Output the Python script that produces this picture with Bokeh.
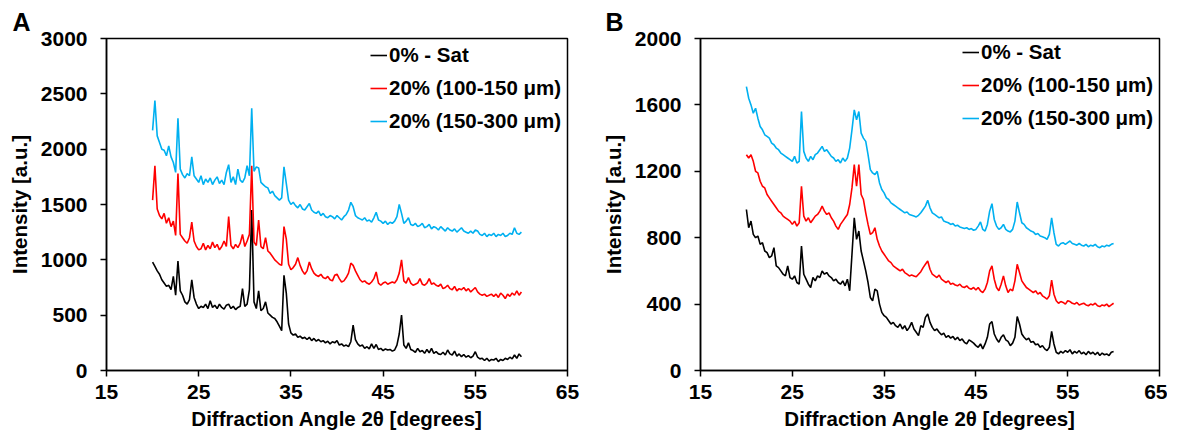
from bokeh.plotting import figure
from bokeh.models import Range1d, Legend, LegendItem, FixedTicker
from bokeh.layouts import row
from bokeh.embed import file_html
from bokeh.resources import INLINE

FONT = "Liberation Sans"

# ---------------- data ----------------
ANGLE_START = 20.0
ANGLE_STEP = 0.25
N_POINTS = 161
angles = [round(ANGLE_START + ANGLE_STEP * i, 2) for i in range(N_POINTS)]

series_names = ["0% - Sat", "20% (100-150 \u03bcm)", "20% (150-300 \u03bcm)"]
series_colors = ["#000000", "#FF0000", "#00B0F0"]

x_ticks = [15, 25, 35, 45, 55, 65]
y_ticks_a = [0, 500, 1000, 1500, 2000, 2500, 3000]
y_ticks_b = [0, 400, 800, 1200, 1600, 2000]

# Panel A
a_sat = [
    980, 940, 900, 870,
    820, 790, 760, 770,
    730, 850, 680, 990,
    720, 680, 620, 600,
    640, 820, 660, 600,
    560, 580, 570, 600,
    560, 630, 570, 590,
    560, 600, 570, 555,
    590, 600, 560, 580,
    550, 570, 580, 740,
    580, 600, 730, 1450,
    620, 560, 720, 540,
    560, 620, 520, 500,
    480, 470, 440, 400,
    360, 860, 700, 420,
    340, 320, 330, 300,
    310, 290, 300, 280,
    300, 270, 290, 265,
    280, 260, 270, 250,
    265, 240, 260, 250,
    270, 230, 240, 220,
    230, 215, 260, 410,
    280, 240, 220, 230,
    200, 215, 195, 240,
    200, 235, 190, 200,
    180, 195, 185, 190,
    175, 185, 230, 330,
    500, 230, 200, 250,
    190, 180, 165, 200,
    170, 180, 155, 190,
    160, 200, 155, 170,
    150, 145, 165, 140,
    185, 150, 140, 175,
    130, 150, 125, 145,
    120, 135, 115, 130,
    170, 120, 105, 110,
    90, 110, 85, 100,
    95, 110, 80, 100,
    90, 110, 100, 120,
    105, 140, 110, 150,
    125,
]
a_100_150 = [
    1540, 1850, 1460, 1400,
    1370, 1420, 1330, 1380,
    1300, 1350, 1220, 1780,
    1230, 1200, 1170, 1150,
    1200, 1340, 1170, 1120,
    1090, 1100, 1150, 1090,
    1130, 1100, 1160, 1110,
    1140, 1090, 1120, 1170,
    1120, 1390, 1130, 1100,
    1140, 1110, 1150, 1230,
    1120, 1170, 1230, 1850,
    1160, 1130, 1360, 1120,
    1100, 1200, 1080, 1060,
    1030, 1000, 980, 960,
    950, 1300, 1190, 960,
    910, 930, 960, 1020,
    950, 900, 870, 900,
    980, 920, 880, 860,
    850, 870, 840, 830,
    850, 820, 810, 860,
    870, 830, 800, 810,
    840, 880, 970, 950,
    900, 860, 820, 800,
    810, 790, 780, 800,
    830, 890, 790, 770,
    790, 800, 780, 790,
    800, 790, 820, 880,
    1000, 810, 790, 840,
    790, 770, 780, 790,
    830, 780, 770, 790,
    830, 780, 790, 770,
    760, 780, 740, 750,
    770, 740, 730, 760,
    720, 740, 730, 750,
    720, 740, 710, 730,
    750, 710, 690, 680,
    690, 670, 680, 690,
    670, 690, 660, 700,
    680, 650, 690, 670,
    700, 680, 720, 680,
    710,
]
a_150_300 = [
    2170, 2440, 2120, 2060,
    2000, 1990, 1940, 2030,
    1930, 1880, 1790, 2280,
    1820, 1770, 1740, 1780,
    1760, 1930, 1760, 1730,
    1700, 1760, 1680, 1730,
    1700, 1740, 1680, 1720,
    1750, 1690, 1720, 1680,
    1790, 1860, 1700, 1750,
    1680, 1820, 1720, 1700,
    1740, 1850, 1760, 2370,
    1800, 1840, 1830, 1700,
    1680, 1660, 1650, 1600,
    1620, 1580, 1560, 1540,
    1560, 1840, 1690, 1540,
    1500, 1520, 1490, 1470,
    1500, 1460, 1450, 1480,
    1510, 1450, 1430, 1420,
    1440, 1400, 1420, 1390,
    1380, 1400, 1390, 1370,
    1400, 1380, 1360, 1390,
    1410, 1450, 1520, 1480,
    1400, 1380, 1370, 1360,
    1380, 1350, 1360, 1340,
    1380, 1430, 1360, 1350,
    1330, 1350, 1320, 1340,
    1330, 1350, 1390, 1500,
    1420, 1330, 1350, 1380,
    1320, 1310, 1330, 1300,
    1310, 1330, 1290, 1300,
    1320, 1280, 1300, 1290,
    1270, 1300, 1280, 1260,
    1290, 1270, 1260, 1280,
    1250, 1270, 1290, 1260,
    1250, 1240, 1260, 1240,
    1270, 1260, 1230, 1220,
    1240, 1210, 1230, 1220,
    1240, 1210, 1230, 1220,
    1240, 1210, 1220, 1240,
    1230, 1290, 1240, 1230,
    1250,
]

# Panel B
b_sat = [
    970, 860, 900, 820,
    800, 810, 760, 770,
    720, 710, 680, 690,
    740, 630, 620, 600,
    580, 570, 630, 560,
    550, 570, 530, 520,
    750, 580, 550, 520,
    500, 560, 540, 570,
    560, 600, 580, 590,
    570, 560, 540, 550,
    530, 520, 540, 510,
    550, 480, 700, 920,
    790, 840, 720, 660,
    600, 530, 440, 420,
    490, 480, 400, 350,
    330, 320, 300, 280,
    290, 270, 260, 280,
    250, 270, 240, 260,
    290, 250, 230, 210,
    270, 260, 320, 340,
    290, 260, 240, 250,
    230, 215, 225, 200,
    210, 195, 205, 185,
    200, 180, 190, 170,
    160, 185, 175, 165,
    150, 140, 160, 130,
    160, 200, 280, 295,
    220, 190, 170, 200,
    215, 185, 175, 150,
    165, 200, 325, 280,
    220, 200, 185, 195,
    170, 175, 155, 160,
    140, 150, 130, 120,
    140, 235, 160, 110,
    100, 115, 105, 120,
    110, 125, 100, 115,
    105, 120, 100, 110,
    95, 115, 100, 110,
    95, 110, 90, 105,
    95, 100, 90, 110,
    115,
]
b_100_150 = [
    1300, 1280, 1300, 1260,
    1200, 1190, 1140, 1110,
    1100, 1060, 1040, 1020,
    1000, 980, 960, 950,
    930, 920, 910, 900,
    880, 900, 870, 890,
    1110, 930, 900, 920,
    890, 910, 930, 940,
    960, 990, 960, 940,
    950, 920, 900, 870,
    850, 880, 900, 920,
    940, 1000, 1100, 1240,
    1110, 1240, 1060, 1030,
    950, 880, 820, 830,
    860, 790, 750, 720,
    700, 680, 660, 650,
    630, 620, 610, 600,
    610, 590, 580, 570,
    575, 570, 565, 580,
    595, 620, 640, 660,
    610, 580, 570, 560,
    575, 550, 540, 530,
    540, 520, 525, 515,
    510, 520, 505, 500,
    510, 495, 490, 500,
    485, 500, 480, 470,
    490, 530, 600, 630,
    550, 500, 480, 520,
    570, 510, 470, 490,
    480, 540, 640, 590,
    540, 520, 500, 490,
    480, 470, 480, 460,
    470, 450, 440, 430,
    450, 545, 460, 420,
    405, 415, 410, 400,
    420, 415, 405, 400,
    410, 395, 400, 405,
    395, 390, 400, 395,
    405, 390, 385, 395,
    390, 400, 385, 395,
    405,
]
b_150_300 = [
    1710, 1640, 1600, 1550,
    1580, 1520, 1470, 1450,
    1420, 1410, 1400, 1370,
    1360, 1340, 1330, 1310,
    1300, 1290, 1280, 1270,
    1260, 1290, 1250, 1260,
    1560, 1320, 1280, 1260,
    1290, 1270, 1300, 1310,
    1330, 1350, 1320, 1330,
    1310, 1290, 1280, 1260,
    1270, 1250, 1280, 1260,
    1280, 1340, 1450, 1570,
    1510, 1560, 1430, 1400,
    1380, 1300, 1210, 1190,
    1180, 1200, 1130, 1090,
    1070, 1040, 1030, 1010,
    1000, 990, 980, 970,
    960, 950, 955, 940,
    935, 930, 925, 935,
    950, 970, 990, 1025,
    980, 950, 940, 930,
    920, 925, 900, 895,
    890, 880, 885, 870,
    875, 865, 860, 855,
    860, 850, 855, 845,
    850, 870, 895, 850,
    840, 880, 960, 1005,
    910, 870, 850, 860,
    880, 850, 840, 835,
    850, 900, 1015, 950,
    890, 880, 860, 850,
    840, 835, 820, 825,
    810, 805, 800, 790,
    820, 920, 830, 760,
    750, 765, 770, 760,
    770, 780, 765, 760,
    755, 765, 755, 750,
    760, 745, 755, 750,
    760, 745, 740, 750,
    745, 755, 750, 760,
    765,
]


def make_panel(letter, ymax, yticks, data, width, border_left, border_right,
               legend_xy, letter_offset):
    p = figure(width=width, height=432, output_backend="svg", toolbar_location=None,
               x_range=Range1d(15, 65), y_range=Range1d(0, ymax),
               min_border_left=border_left, min_border_right=border_right,
               min_border_top=38, min_border_bottom=61,
               background_fill_color="white", border_fill_color="white")
    p.xgrid.visible = False
    p.ygrid.visible = False
    p.outline_line_color = "black"
    p.outline_line_width = 1.5
    p.outline_line_alpha = 1.0

    p.title.text = letter
    p.title.text_font = FONT
    p.title.text_font_size = "25px"
    p.title.text_font_style = "bold"
    p.title.text_color = "black"
    p.title.align = "left"
    p.title.offset = letter_offset
    p.title.standoff = 6

    p.xaxis.ticker = FixedTicker(ticks=x_ticks)
    p.yaxis.ticker = FixedTicker(ticks=yticks)
    for ax in (p.xaxis[0], p.yaxis[0]):
        ax.axis_line_color = "black"
        ax.axis_line_width = 1.5
        ax.major_tick_line_color = "black"
        ax.major_tick_line_width = 1.5
        ax.major_tick_in = 0
        ax.major_tick_out = 6
        ax.minor_tick_line_color = None
        ax.major_label_text_font = FONT
        ax.major_label_text_font_size = "21px"
        ax.major_label_text_font_style = "bold"
        ax.major_label_text_color = "black"
        ax.axis_label_text_font = FONT
        ax.axis_label_text_font_size = "20.5px"
        ax.axis_label_text_font_style = "bold"
        ax.axis_label_text_color = "black"
    p.xaxis.axis_label = "Diffraction Angle 2\u03b8 [degrees]"
    p.yaxis.axis_label = "Intensity [a.u.]"
    p.xaxis.major_label_standoff = 8
    p.xaxis.axis_label_standoff = 5
    p.yaxis.major_label_standoff = 13
    p.yaxis.axis_label_standoff = 7

    items = []
    for name, color, ys in zip(series_names, series_colors, data):
        r = p.line(angles, ys, line_color=color, line_width=1.6)
        items.append(LegendItem(label=name, renderers=[r]))

    legend = Legend(items=items, location=legend_xy, padding=0, margin=0,
                    spacing=9, glyph_width=17, glyph_height=20, label_height=20,
                    label_standoff=2, label_text_font=FONT,
                    label_text_font_size="20.5px", label_text_font_style="bold",
                    label_text_color="black", background_fill_alpha=0,
                    border_line_alpha=0)
    p.add_layout(legend)
    return p


pa = make_panel("A", 3000, y_ticks_a, [a_sat, a_100_150, a_150_300],
                width=598, border_left=106, border_right=31,
                legend_xy=(264, 237), letter_offset=-94)
pb = make_panel("B", 2000, y_ticks_b, [b_sat, b_100_150, b_150_300],
                width=569, border_left=100, border_right=8,
                legend_xy=(262, 240), letter_offset=-95)

layout = row(pa, pb)
open("out.html", "w").write(file_html(layout, INLINE))
